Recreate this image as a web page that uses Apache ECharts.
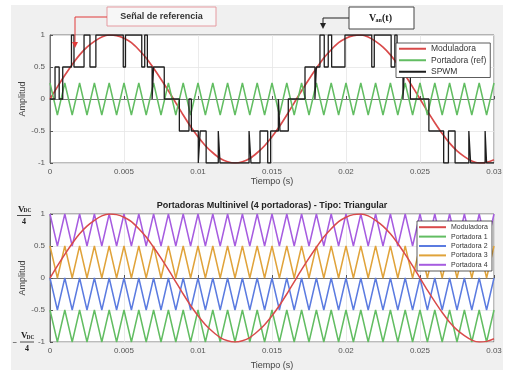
<!DOCTYPE html>
<html>
<head>
<meta charset="utf-8">
<script src="https://cdn.jsdelivr.net/npm/echarts@6/dist/echarts.min.js"></script>
<style>
  html, body { margin: 0; padding: 0; background: #fff; }
  #chart { width: 511px; height: 374px; }
</style>
</head>
<body>
<div id="chart"></div>
<script>
// tiempo de muestreo (s), paso de 0.5 ms
const tiempo = [0,0.0005,0.001,0.0015,0.002,0.0025,0.003,0.0035,0.004,0.0045,
  0.005,0.0055,0.006,0.0065,0.007,0.0075,0.008,0.0085,0.009,0.0095,
  0.01,0.0105,0.011,0.0115,0.012,0.0125,0.013,0.0135,0.014,0.0145,
  0.015,0.0155,0.016,0.0165,0.017,0.0175,0.018,0.0185,0.019,0.0195,
  0.02,0.0205,0.021,0.0215,0.022,0.0225,0.023,0.0235,0.024,0.0245,
  0.025,0.0255,0.026,0.0265,0.027,0.0275,0.028,0.0285,0.029,0.0295,0.03];

const moduladora = [0,0.19,0.37,0.54,0.69,0.81,0.9,0.97,1,0.99,
  0.95,0.88,0.77,0.64,0.48,0.31,0.13,-0.06,-0.25,-0.43,
  -0.59,-0.73,-0.84,-0.93,-0.98,-1,-0.98,-0.93,-0.84,-0.73,
  -0.59,-0.43,-0.25,-0.06,0.13,0.31,0.48,0.64,0.77,0.88,
  0.95,0.99,1,0.97,0.9,0.81,0.69,0.54,0.37,0.19,
  0,-0.19,-0.37,-0.54,-0.69,-0.81,-0.9,-0.97,-1,-0.99,-0.95];

const portadoraRef = [0.25,-0.25,0.25,-0.25,0.25,-0.25,0.25,-0.25,0.25,-0.25,
  0.25,-0.25,0.25,-0.25,0.25,-0.25,0.25,-0.25,0.25,-0.25,
  0.25,-0.25,0.25,-0.25,0.25,-0.25,0.25,-0.25,0.25,-0.25,
  0.25,-0.25,0.25,-0.25,0.25,-0.25,0.25,-0.25,0.25,-0.25,
  0.25,-0.25,0.25,-0.25,0.25,-0.25,0.25,-0.25,0.25,-0.25,
  0.25,-0.25,0.25,-0.25,0.25,-0.25,0.25,-0.25,0.25,-0.25,0.25];

const portadora1 = [-0.5,-1,-0.5,-1,-0.5,-1,-0.5,-1,-0.5,-1,
  -0.5,-1,-0.5,-1,-0.5,-1,-0.5,-1,-0.5,-1,
  -0.5,-1,-0.5,-1,-0.5,-1,-0.5,-1,-0.5,-1,
  -0.5,-1,-0.5,-1,-0.5,-1,-0.5,-1,-0.5,-1,
  -0.5,-1,-0.5,-1,-0.5,-1,-0.5,-1,-0.5,-1,
  -0.5,-1,-0.5,-1,-0.5,-1,-0.5,-1,-0.5,-1,-0.5];

const portadora2 = [0,-0.5,0,-0.5,0,-0.5,0,-0.5,0,-0.5,
  0,-0.5,0,-0.5,0,-0.5,0,-0.5,0,-0.5,
  0,-0.5,0,-0.5,0,-0.5,0,-0.5,0,-0.5,
  0,-0.5,0,-0.5,0,-0.5,0,-0.5,0,-0.5,
  0,-0.5,0,-0.5,0,-0.5,0,-0.5,0,-0.5,
  0,-0.5,0,-0.5,0,-0.5,0,-0.5,0,-0.5,0];

const portadora3 = [0.5,0,0.5,0,0.5,0,0.5,0,0.5,0,
  0.5,0,0.5,0,0.5,0,0.5,0,0.5,0,
  0.5,0,0.5,0,0.5,0,0.5,0,0.5,0,
  0.5,0,0.5,0,0.5,0,0.5,0,0.5,0,
  0.5,0,0.5,0,0.5,0,0.5,0,0.5,0,
  0.5,0,0.5,0,0.5,0,0.5,0,0.5,0,0.5];

const portadora4 = [1,0.5,1,0.5,1,0.5,1,0.5,1,0.5,
  1,0.5,1,0.5,1,0.5,1,0.5,1,0.5,
  1,0.5,1,0.5,1,0.5,1,0.5,1,0.5,
  1,0.5,1,0.5,1,0.5,1,0.5,1,0.5,
  1,0.5,1,0.5,1,0.5,1,0.5,1,0.5,
  1,0.5,1,0.5,1,0.5,1,0.5,1,0.5,1];

// SPWM multinivel: instante de cada cambio (s) y nivel que toma
const spwmT = [0,0.00034,0.00062,0.00086,0.00145,0.00162,0.0023,0.0027,0.0031,0.00495,
  0.0051,0.0062,0.0064,0.00658,0.0069,0.007,0.00772,0.00874,0.00939,0.00955,
  0.01002,0.01015,0.01055,0.01137,0.01149,0.01345,0.01358,0.01419,0.01471,0.01491,
  0.01543,0.01554,0.0161,0.01723,0.0179,0.018,0.01824,0.01853,0.0188,0.01903,
  0.01993,0.02174,0.02191,0.02305,0.0233,0.02345,0.02385,0.02395,0.02435,0.0256,
  0.0266,0.02692,0.02737,0.0283,0.02842,0.0294,0.0295,0.03];
const spwmNivel = [0,0.5,0,0.5,1,0.5,1,0.5,1,0.5,
  1,0.5,1,0.5,0,0.5,0,-0.5,0,-0.5,
  -1,-0.5,-1,-0.5,-1,-0.5,-1,-0.5,-1,-0.5,
  0,-0.5,0,0.5,0,0.5,1,0.5,1,0.5,
  1,0.5,1,0.5,1,0.5,0,0.5,0,-0.5,
  -1,-0.5,-1,-0.5,-1,-0.5,-1,-1];

const ROJO = '#d94a4a', VERDE = '#62bd62', NEGRO = '#1e1e1e';
const AZUL = '#5b7be0', NARANJA = '#e0a33a', MORADO = '#a65ce0';

const pares = (vals) => tiempo.map((t, i) => [t, vals[i]]);

const chart = echarts.init(document.getElementById('chart'));

const ejeX = (gi, gap) => ({
  type: 'value', gridIndex: gi, min: 0, max: 0.03, interval: 0.005,
  name: 'Tiempo (s)', nameLocation: 'middle', nameGap: gap, nameMoveOverlap: false,
  nameTextStyle: { fontSize: 9, color: '#444' },
  axisLine: { show: true, lineStyle: { color: '#555', width: 0.8 } },
  axisTick: { inside: true, length: 3, lineStyle: { color: '#555' } },
  axisLabel: { fontSize: 8, color: '#555', margin: 5 },
  splitLine: { show: true, lineStyle: { color: '#e6e6e6', width: 0.8 } }
});

const ejeY = (gi) => ({
  type: 'value', gridIndex: gi, min: -1, max: 1, interval: 0.5,
  name: 'Amplitud', nameLocation: 'middle', nameGap: 23, nameMoveOverlap: false,
  nameTextStyle: { fontSize: 9, color: '#444' },
  axisLine: { show: true, lineStyle: { color: '#555', width: 0.8 } },
  axisTick: { show: true, inside: true, length: 3, lineStyle: { color: '#555' } },
  axisLabel: { fontSize: 8, color: '#555', margin: 5 },
  splitLine: { show: true, lineStyle: { color: '#e6e6e6', width: 0.8 } }
});

const linea = (name, data, color, gi, extra) => Object.assign({
  name, type: 'line', data, xAxisIndex: gi, yAxisIndex: gi,
  showSymbol: false, symbol: 'none', silent: true,
  lineStyle: { color, width: 1.5 }, itemStyle: { color }
}, extra || {});

const txt = (x, y, text, font, extra) => ({
  type: 'text', x, y, z: 100,
  style: Object.assign({ text, font, fill: '#222', align: 'left', verticalAlign: 'middle' }, extra || {})
});

chart.setOption({
  animation: false,
  backgroundColor: '#fff',
  grid: [
    { left: 50, top: 35, width: 444, height: 128, show: true, backgroundColor: '#fff', borderColor: '#555', borderWidth: 0.8 },
    { left: 50, top: 214, width: 444, height: 128, show: true, backgroundColor: '#fff', borderColor: '#555', borderWidth: 0.8 }
  ],
  xAxis: [ejeX(0, 14), ejeX(1, 19)],
  yAxis: [ejeY(0), ejeY(1)],
  legend: [
    {
      data: ['Moduladora', 'Portadora (ref)', 'SPWM'],
      orient: 'vertical', left: 396, top: 43, icon: 'rect',
      itemWidth: 27, itemHeight: 2, itemGap: 0, padding: [0, 4, 0, 3],
      backgroundColor: '#fff', borderColor: '#333', borderWidth: 0.8,
      selectedMode: false,
      textStyle: { fontSize: 8.5, color: '#333', lineHeight: 11.5 }
    },
    {
      data: ['Moduladora', 'Portadora 1', 'Portadora 2', 'Portadora 3', 'Portadora 4'],
      orient: 'vertical', left: 417, top: 221, icon: 'rect',
      itemWidth: 27, itemHeight: 2, itemGap: 0, padding: [1.5, 4, 1.5, 2],
      backgroundColor: '#fff', borderColor: '#333', borderWidth: 0.8,
      selectedMode: false,
      textStyle: { fontSize: 7, color: '#333', lineHeight: 9.4 }
    }
  ],
  series: [
    linea('Moduladora', pares(moduladora), ROJO, 0, { smooth: 0.3, lineStyle: { color: ROJO, width: 1.7 } }),
    linea('Portadora (ref)', pares(portadoraRef), VERDE, 0),
    linea('SPWM', spwmT.map((t, i) => [t, spwmNivel[i]]), NEGRO, 0, { step: 'end', lineStyle: { color: NEGRO, width: 1.3 } }),
    linea('Portadora 1', pares(portadora1), VERDE, 1),
    linea('Portadora 2', pares(portadora2), AZUL, 1),
    linea('Portadora 3', pares(portadora3), NARANJA, 1),
    linea('Portadora 4', pares(portadora4), MORADO, 1),
    linea('Moduladora', pares(moduladora), ROJO, 1, { smooth: 0.3, z: 5, lineStyle: { color: ROJO, width: 1.5 } })
  ],
  graphic: [
    { type: 'rect', z: -10, shape: { x: 11, y: 5, width: 492, height: 365 }, style: { fill: '#f0f0f0' } },
    // titulo del segundo grafico
    txt(272, 206, 'Portadoras Multinivel (4 portadoras) - Tipo: Triangular', 'bold 9px Arial', { align: 'center' }),
    // anotacion roja
    { type: 'rect', z: 100, shape: { x: 107, y: 7, width: 109, height: 19 }, style: { fill: '#f7f7f7', stroke: '#e59aa0', lineWidth: 1 } },
    txt(161.5, 16.5, 'Señal de referencia', 'bold 9px Arial', { align: 'center', fill: '#333' }),
    { type: 'polyline', z: 100, shape: { points: [[107, 17], [75, 17], [75, 43]] }, style: { stroke: '#e03a3a', lineWidth: 1, fill: null } },
    { type: 'polygon', z: 100, shape: { points: [[72, 42], [78, 42], [75, 48]] }, style: { fill: '#e03a3a' } },
    // anotacion Van(t)
    { type: 'rect', z: 100, shape: { x: 349, y: 7, width: 65, height: 22 }, style: { fill: '#fff', stroke: '#444', lineWidth: 1 } },
    txt(369, 18, 'V', 'bold 10px "Liberation Serif"'),
    txt(375.5, 20.5, 'an', 'bold 6px "Liberation Serif"'),
    txt(382, 18, '(t)', 'bold 10px "Liberation Serif"'),
    { type: 'polyline', z: 100, shape: { points: [[349, 18], [323, 18], [323, 24]] }, style: { stroke: '#222', lineWidth: 1, fill: null } },
    { type: 'polygon', z: 100, shape: { points: [[320, 23], [326, 23], [323, 29]] }, style: { fill: '#222' } },
    // Vdc/4 arriba
    txt(18, 209.5, 'V', 'bold 9px "Liberation Serif"'),
    txt(23.5, 211, 'DC', 'bold 5.5px "Liberation Serif"'),
    { type: 'line', z: 100, shape: { x1: 17, y1: 215.5, x2: 31, y2: 215.5 }, style: { stroke: '#222', lineWidth: 0.8 } },
    txt(24, 222, '4', 'bold 8px "Liberation Serif"', { align: 'center' }),
    // -Vdc/4 abajo
    txt(12.5, 342.5, '\u2212', 'bold 8px "Liberation Serif"'),
    txt(21, 336, 'V', 'bold 9px "Liberation Serif"'),
    txt(26.5, 337.5, 'DC', 'bold 5.5px "Liberation Serif"'),
    { type: 'line', z: 100, shape: { x1: 20, y1: 342, x2: 34, y2: 342 }, style: { stroke: '#222', lineWidth: 0.8 } },
    txt(27, 349, '4', 'bold 8px "Liberation Serif"', { align: 'center' })
  ]
});
</script>
</body>
</html>
